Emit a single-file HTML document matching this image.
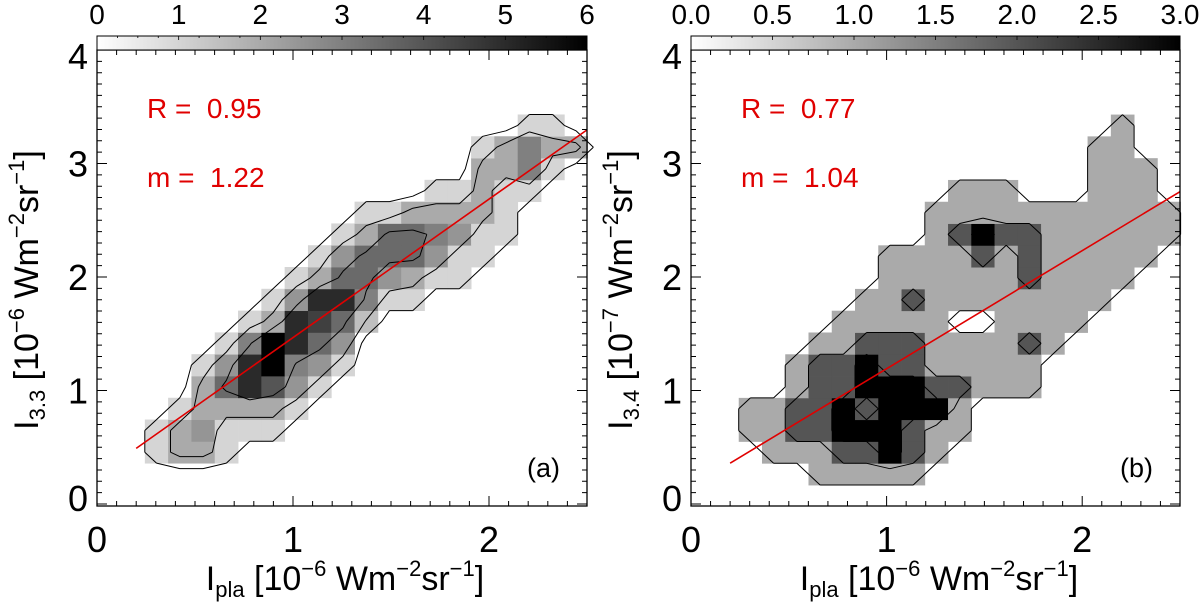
<!DOCTYPE html>
<html><head><meta charset="utf-8"><style>
html,body{margin:0;padding:0;background:#fff;}
svg{display:block;font-family:"Liberation Sans",Arial,sans-serif;}
.pre{white-space:pre;}
</style></head><body>
<svg id="fig" width="1200" height="608" viewBox="0 0 1200 608" xmlns="http://www.w3.org/2000/svg">
<defs><linearGradient id="cbg" x1="0" x2="1" y1="0" y2="0"><stop offset="0" stop-color="#fff"/><stop offset="1" stop-color="#000"/></linearGradient></defs>
</svg>
<script>
// ---- data: panel (a) ----
const aXStart = 0.244, aXBin = 0.1189, aYStart = 0.36, aYBin = 0.192;
// rows bottom->top: [first column index, values...]
const aRows = [
 [0, 1,2,2,1],
 [0, 1,2,2.5,1,1,1],
 [1, 1,2,2,2,2,1],
 [2, 2,3.5,5,4,2.5,1],
 [2, 1,2.5,5,6,3,2.5,1],
 [3, 1,3,6,5,3.5,2.5],
 [4, 1,2,5,4.5,3.5,1.5],
 [5, 1,2.5,5,5,3,1,1],
 [6, 1,2,3.5,3.5,2.5,2,1,1],
 [7, 1,2.5,3.5,3.5,3.5,2.5,1,1],
 [8, 1,2,3.5,3.5,3,2.5,1,1],
 [9, 1,1,2,2,2,2,1],
 [12, 1,1,2,1,1],
 [14, 2,2,3,1],
 [14, 1,2,3,2,2],
 [16, 1,1]
];
const aMax = 6;
const aLevels = [0.5, 1.6, 3.2];
const aSlope = 1.22, aIntercept = 0.246, aFitX = [0.2, 2.5];
const aCbTicks = ["0","1","2","3","4","5","6"];
// ---- data: panel (b) ----
const bXStart = 0.244, bXBin = 0.1189, bYStart = 0.167, bYBin = 0.192;
const bRows = [
 [3, 1,1,1,1,1],
 [1, 1,1,1,2,2,3,2,1],
 [0, 1,1,2,2,3,3,3,2,1,1],
 [0, 1,1,2,2,3,2,3,3,3,1],
 [2, 1,2,2,3,3,3,2,2,1,1,1],
 [2, 1,2,2,3,2,2,1,1,1,1,1],
 [3, 1,1,2,2,2,1,1,1,1,2,1],
 [4, 1,1,1,1,1,0,0,1,1,1,1],
 [5, 1,1,2,1,1,1,1,1,1,1,1],
 [6, 1,1,1,1,1,1,2,1,1,1,1],
 [6, 1,1,1,1,2,1,2,1,1,1,1,1],
 [8, 1,2,3,2,2,1,1,1,1,1,1],
 [8, 1,1,1,1,1,1,1,1,1,1,1],
 [9, 1,1,1,0,0,0,1,1,1],
 [15, 1,1,1],
 [15, 1,1],
 [16, 1]
];
const bMax = 3;
const bLevels = [0.5, 1.5, 2.5];
const bSlope = 1.04, bIntercept = 0.152, bFitX = [0.2, 2.5];
const bCbTicks = ["0.0","0.5","1.0","1.5","2.0","2.5","3.0"];

const NS = "http://www.w3.org/2000/svg";
const svg = document.getElementById('fig');
function mk(tag, attrs, parent){const e=document.createElementNS(NS,tag);for(const k in attrs)e.setAttribute(k,attrs[k]);(parent||svg).appendChild(e);return e;}

function panel(o){
  const L=o.left, R=o.right, T=50, B=506;
  const sx=v=>L+(v-0)*(R-L)/2.5;
  const sy=v=>504-v*113.5;
  const g=mk('g',{});
  
  
  const ncol=19, nrow=o.rows.length;
  const grid=[];
  for(let j=0;j<nrow;j++){const r=new Array(ncol).fill(0);const s=o.rows[j][0];for(let i=1;i<o.rows[j].length;i++)r[s+i-1]=o.rows[j][i];grid.push(r);}
  const hm=mk('g',{},g);
  
  
  for(let j=0;j<nrow;j++)for(let k=0;k<ncol;k++){
    const v=grid[j][k]; if(v<=0) continue;
    const x0=sx(o.x0+k*o.xb), x1=sx(o.x0+(k+1)*o.xb);
    const y1=sy(o.y0+j*o.yb), y0=sy(o.y0+(j+1)*o.yb);
    const c=Math.round(255*(1-Math.min(v,o.max)/o.max));
    const r=mk('rect',{x:x0.toFixed(2),y:y0.toFixed(2),width:(x1-x0+0.4).toFixed(2),height:(y1-y0+0.4).toFixed(2),fill:`rgb(${c},${c},${c})`},hm);
    
    
  }
  const cg=mk('g',{fill:'none',stroke:'#000','stroke-width':1},g);
  
  
  const val=(j,k)=>(j<0||k<0||j>=nrow||k>=ncol)?0:grid[j][k];
  const cx=k=>sx(o.x0+(k+0.5)*o.xb), cy=j=>sy(o.y0+(j+0.5)*o.yb);
  o.levels.forEach(lv=>{
    let d='';
    for(let j=-1;j<nrow;j++)for(let k=-1;k<ncol;k++){
      const a=val(j,k),b=val(j,k+1),c=val(j+1,k+1),e=val(j+1,k);
      const pts=[];
      const edge=(v1,v2,p1,p2)=>{if((v1>=lv)!==(v2>=lv)){const t=(lv-v1)/(v2-v1);pts.push([p1[0]+t*(p2[0]-p1[0]),p1[1]+t*(p2[1]-p1[1])]);}};
      const P00=[cx(k),cy(j)],P10=[cx(k+1),cy(j)],P11=[cx(k+1),cy(j+1)],P01=[cx(k),cy(j+1)];
      edge(a,b,P00,P10);edge(b,c,P10,P11);edge(c,e,P11,P01);edge(e,a,P01,P00);
      for(let i=0;i+1<pts.length;i+=2)d+=`M${pts[i][0].toFixed(1)},${pts[i][1].toFixed(1)}L${pts[i+1][0].toFixed(1)},${pts[i+1][1].toFixed(1)}`;
    }
    const p=mk('path',{d:d},cg);
    
    
  });
  const fl=mk('line',{x1:sx(o.fit[0]),y1:sy(o.slope*o.fit[0]+o.icpt),x2:sx(o.fit[1]),y2:sy(o.slope*o.fit[1]+o.icpt),stroke:'#e00000','stroke-width':1.6},g);
  
  
  const fr=mk('rect',{x:L,y:T,width:R-L,height:B-T,fill:'none',stroke:'#000','stroke-width':1.3},g);
  
  
  let td='';
  for(let i=0;i<=25;i++){const x=sx(i/10);const len=(i%10===0)?10:5;td+=`M${x},${B}v${-len}M${x},${T}v${len}`;}
  for(let i=0;i<=40;i++){const y=sy(i/10);if(y>B||y<T)continue;const len=(i%10===0)?10:5;td+=`M${L},${y}h${len}M${R},${y}h${-len}`;}
  const tp=mk('path',{d:td,stroke:'#000','stroke-width':1,fill:'none'},g);
  
  
  [0,1,2].forEach(v=>{const t=mk('text',{x:sx(v),y:552,'font-size':36,'text-anchor':'middle'},g);t.textContent=v;
    });
  [0,1,2,3,4].forEach(v=>{const t=mk('text',{x:L-9,y:sy(v)+13+(v===4?6:0)-(v===0?6:0),'font-size':36,'text-anchor':'end'},g);t.textContent=v;
    });
  const cb=mk('rect',{x:L,y:36,width:R-L,height:14,fill:'url(#cbg)',stroke:'#000','stroke-width':1},g);
  
  
  let cd='';
  for(let i=1;i<24;i++){const x=L+i*(R-L)/24;cd+=`M${x},36v${i%4===0?4:2}`;}
  mk('path',{d:cd,stroke:'#000','stroke-width':0.8},g);
  o.cb.forEach((s,i)=>{const t=mk('text',{x:L+i*(R-L)/6,y:24,'font-size':28,'text-anchor':'middle'},g);t.textContent=s;
    });
  const r1=mk('text',{x:L+50,y:118,'font-size':28,fill:'#e00000','class':'pre'},g);r1.textContent='R =  '+o.R;
  
  const r2=mk('text',{x:L+50,y:187,'font-size':28,fill:'#e00000','class':'pre'},g);r2.textContent='m =  '+o.m;
  
  const pl=mk('text',{x:R-60,y:477,'font-size':27},g);pl.textContent=o.tag;
  
  const xt=mk('text',{x:o.xtx,y:590,'font-size':34,'text-anchor':'middle'},g);
  xt.innerHTML='I<tspan font-size="22" dy="7">pla</tspan><tspan dy="-7"> [10</tspan><tspan font-size="22" dy="-14">−6</tspan><tspan dy="14"> Wm</tspan><tspan font-size="22" dy="-14">−2</tspan><tspan dy="14">sr</tspan><tspan font-size="22" dy="-14">−1</tspan><tspan dy="14">]</tspan>';
  
  const yt=mk('text',{x:0,y:0,'font-size':34,'text-anchor':'middle',transform:`translate(${o.ytx},290) rotate(-90)`},g);
  yt.innerHTML='I<tspan font-size="22" dy="7">'+o.ysub+'</tspan><tspan dy="-7"> [10</tspan><tspan font-size="22" dy="-14">−'+o.yexp+'</tspan><tspan dy="14"> Wm</tspan><tspan font-size="22" dy="-14">−2</tspan><tspan dy="14">sr</tspan><tspan font-size="22" dy="-14">−1</tspan><tspan dy="14">]</tspan>';
  
}
panel({name:'panel-a',left:97,right:587,rows:aRows,x0:aXStart,xb:aXBin,y0:aYStart,yb:aYBin,max:aMax,levels:aLevels,slope:aSlope,icpt:aIntercept,fit:aFitX,cb:aCbTicks,R:'0.95',m:'1.22',tag:'(a)',xtx:345,ytx:38,ysub:'3.3',yexp:'6'});
panel({name:'panel-b',left:691,right:1180,rows:bRows,x0:bXStart,xb:bXBin,y0:bYStart,yb:bYBin,max:bMax,levels:bLevels,slope:bSlope,icpt:bIntercept,fit:bFitX,cb:bCbTicks,R:'0.77',m:'1.04',tag:'(b)',xtx:939,ytx:632,ysub:'3.4',yexp:'7'});
</script>
</body></html>
